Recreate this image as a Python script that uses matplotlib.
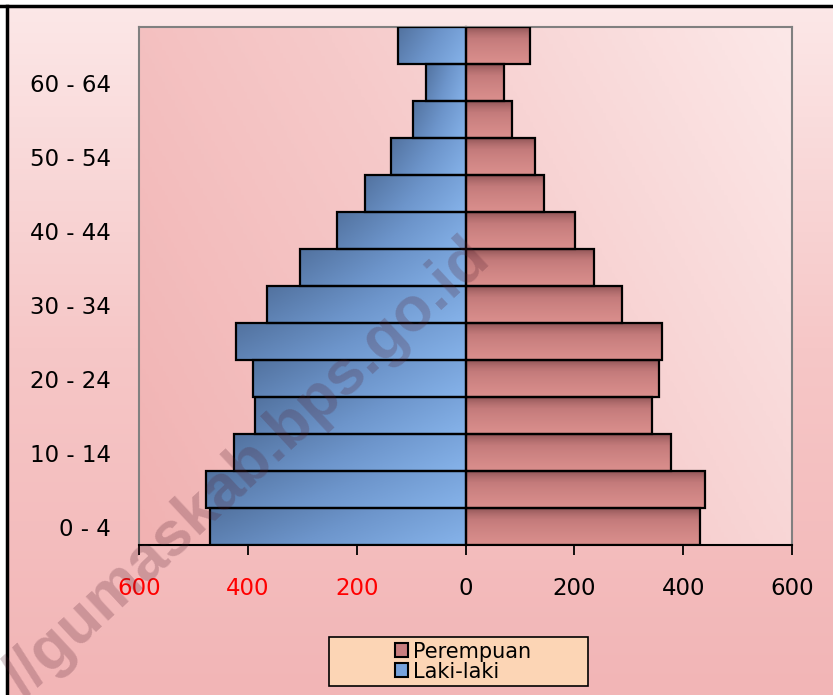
import numpy as np
import matplotlib
matplotlib.use("Agg")
import matplotlib.pyplot as plt
from matplotlib.colors import LinearSegmentedColormap
from matplotlib.patches import Rectangle
from matplotlib.lines import Line2D

plt.rcParams['font.family'] = ['DejaVu Sans']

# ---- data ----
age_groups = ['0 - 4', '5 - 9', '10 - 14', '15 - 19', '20 - 24', '25 - 29', '30 - 34',
              '35 - 39', '40 - 44', '45 - 49', '50 - 54', '55 - 59', '60 - 64', '65+']
laki_laki = [470, 476, 426, 387, 391, 421, 364, 304, 237, 184, 136, 96, 73, 124]
perempuan = [431, 440, 377, 342, 355, 362, 287, 236, 201, 145, 127, 85, 70, 118]
xticks = [-600, -400, -200, 0, 200, 400, 600]

W, H = 833, 695
fig = plt.figure(figsize=(W / 100, H / 100), dpi=100)

# figure background: vertical gradient
bg = fig.add_axes([0, 0, 1, 1], zorder=-10)
bg.set_axis_off()
bg_cmap = LinearSegmentedColormap.from_list('bg', ['#f2b5b6', '#f6c7c7', '#fce8e8'])
gy = np.linspace(0, 1, 256).reshape(-1, 1)
bg.imshow(gy, cmap=bg_cmap, aspect='auto', extent=[0, 1, 0, 1], origin='lower')
bg.set_xlim(0, 1)
bg.set_ylim(0, 1)

ax = fig.add_axes([139 / W, 1 - 545 / H, (792 - 139) / W, (545 - 27) / H])

# plot area diagonal gradient
pa_cmap = LinearSegmentedColormap.from_list('pa', ['#f1b2b2', '#f6caca', '#fce8e8'])
gx, gyy = np.meshgrid(np.linspace(0, 1, 200), np.linspace(0, 1, 200))
tpa = (gx * 0.7 + (1 - gyy) * 0.3)
ax.imshow(tpa, cmap=pa_cmap, aspect='auto', extent=[0, 1, 0, 1],
          transform=ax.transAxes, zorder=0, origin='upper')

y = np.arange(len(age_groups))
neg_l = [-v for v in laki_laki]
bars_l = ax.barh(y, neg_l, height=1.0, facecolor='none', edgecolor='black',
                 linewidth=1.6, zorder=3, label='Laki-laki')
bars_p = ax.barh(y, perempuan, height=1.0, facecolor='none', edgecolor='black',
                 linewidth=1.6, zorder=3, label='Perempuan')

blue_cmap = LinearSegmentedColormap.from_list('b', ['#52729f', '#6d95cb', '#86b3ea'])
red_cmap = LinearSegmentedColormap.from_list('r', ['#8a5052', '#c47b7b', '#da8f8d'])

bx, by = np.meshgrid(np.linspace(0, 1, 100), np.linspace(0, 1, 40))
tb = (bx * 0.75 + by * 0.25)  # left/top dark -> right/bottom light
tr = np.tile(np.linspace(0, 1, 40).reshape(-1, 1) ** 0.6, (1, 100))

for b in bars_l:
    bb = b.get_bbox()
    im = ax.imshow(tb, cmap=blue_cmap, aspect='auto', origin='upper',
                   extent=[min(bb.x0, bb.x1), max(bb.x0, bb.x1), bb.y0, bb.y1], zorder=2)
    im.set_clip_path(b)
for b in bars_p:
    bb = b.get_bbox()
    im = ax.imshow(tr, cmap=red_cmap, aspect='auto', origin='upper',
                   extent=[min(bb.x0, bb.x1), max(bb.x0, bb.x1), bb.y0, bb.y1], zorder=2)
    im.set_clip_path(b)

ax.set_xlim(-600, 600)
ax.set_ylim(-0.5, len(age_groups) - 0.5)

# x axis
ax.set_xticks(xticks)
ax.set_xticklabels([str(abs(v)) for v in xticks], fontsize=16.5)
for lab, v in zip(ax.get_xticklabels(), xticks):
    lab.set_color('#ff0000' if v < 0 else 'black')
ax.tick_params(axis='x', direction='out', length=7, width=1.3, pad=16, color='black')

# y axis labels on left, every other
ax.set_yticks(y)
ax.set_yticklabels([g if i % 2 == 0 else '' for i, g in enumerate(age_groups)], fontsize=16.5)
ax.tick_params(axis='y', length=0, pad=20)

for s in ['left', 'top', 'right']:
    ax.spines[s].set_color('#808080')
    ax.spines[s].set_linewidth(1.5)
ax.spines['bottom'].set_color('black')
ax.spines['bottom'].set_linewidth(1.5)

# zero axis with small ticks
sec = ax.secondary_yaxis(0.5)
sec.set_alignment('left')
sec.set_yticks(y)
sec.set_yticklabels([])
sec.tick_params(axis='y', direction='out', length=4.5, width=1.2)
sec.spines['left'].set_linewidth(1.6)
sec.spines['left'].set_color('black')

# legend
lx0, lx1, ly0, ly1 = 329, 588, 637, 686
fig.patches.append(Rectangle((lx0 / W, 1 - ly1 / H), (lx1 - lx0) / W, (ly1 - ly0) / H,
                             transform=fig.transFigure, facecolor='#fcd5b5',
                             edgecolor='black', linewidth=1.2, zorder=1))
h_p = Rectangle((0, 0), 1, 1, facecolor='#c97e7e', edgecolor='black', linewidth=1.5)
h_l = Rectangle((0, 0), 1, 1, facecolor='#76a2dc', edgecolor='black', linewidth=1.5)
leg = fig.legend([h_p, h_l], ['Perempuan', 'Laki-laki'], loc='center',
                 bbox_to_anchor=(463 / W, 1 - 661.5 / H), frameon=False, fontsize=15,
                 handlelength=0.65, handleheight=0.65, handletextpad=0.25,
                 labelspacing=0.0, borderpad=0.1)
leg.set_zorder(5)

# watermark
fig.text(492 / W, 1 - 262 / H, '//gumaskab.bps.go.id', fontsize=45,
         fontweight='bold', rotation=43, rotation_mode='anchor', ha='right',
         va='baseline', color=(0.32, 0.12, 0.18), alpha=0.24, zorder=20,
         family='Liberation Sans')

# border lines (top and left)
fig.lines.append(Line2D([0, 1], [1 - 5.5 / H, 1 - 5.5 / H], transform=fig.transFigure,
                        color='black', linewidth=2.5))
fig.lines.append(Line2D([6.5 / W, 6.5 / W], [0, 1 - 5.5 / H], transform=fig.transFigure,
                        color='black', linewidth=2.5))
fig.patches.append(Rectangle((0, 1 - 4.5 / H), 1, 4.5 / H, transform=fig.transFigure,
                             facecolor='white', edgecolor='none', zorder=0))
fig.patches.append(Rectangle((0, 0), 5.5 / W, 1, transform=fig.transFigure,
                             facecolor='white', edgecolor='none', zorder=0))

fig.savefig('out.png', dpi=100)
